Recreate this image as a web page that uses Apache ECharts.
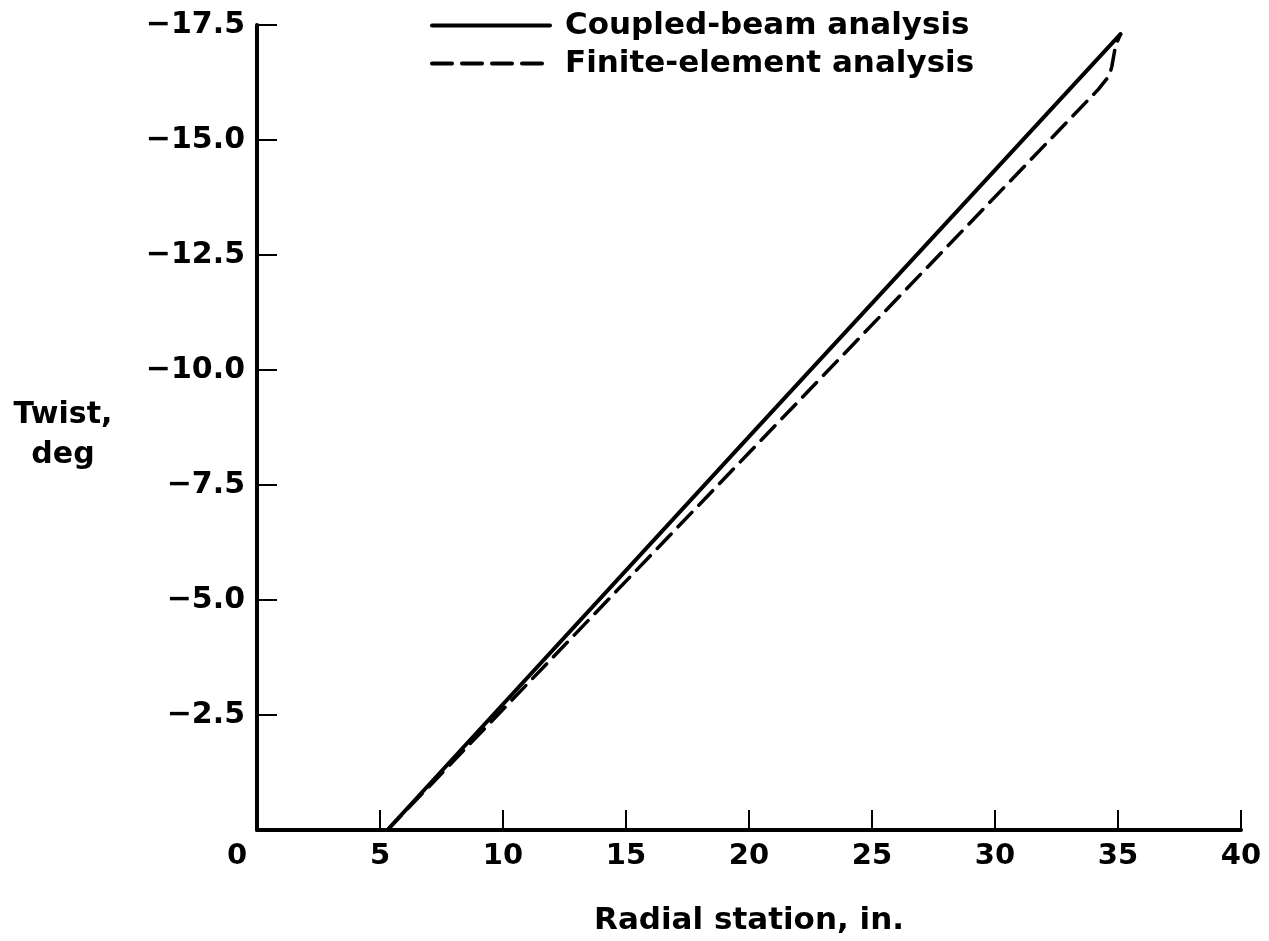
<!DOCTYPE html>
<html>
<head>
<meta charset="utf-8">
<script src="https://cdn.jsdelivr.net/npm/echarts@6/dist/echarts.min.js"></script>
<style>
  html, body { margin: 0; padding: 0; background: #fff; }
  #chart { width: 1269px; height: 941px; }
</style>
</head>
<body>
<div id="chart"></div>
<script>
// values (radial station in., twist deg)
var seriesNames = ['Coupled-beam analysis', 'Finite-element analysis']
var coupledBeam = [[5.3, 0], [20, -8.55], [35.1, -17.3]]
var finiteElement = [[5.3, 0], [20, -8.2], [34.2, -16.1], [34.65, -16.4], [34.75, -16.6], [34.9, -17.05], [35.1, -17.3]]
var xTicks = { min: 0, max: 40, step: 5 }
var yTicks = { min: -17.5, max: 0, step: 2.5 }

var FONT = 'DejaVu Sans'
var myChart = echarts.init(document.getElementById('chart'))

var option = {
  backgroundColor: '#fff',
  animation: false,
  textStyle: { fontFamily: FONT, color: '#000' },
  legend: {
    orient: 'vertical',
    left: 425,
    top: 5,
    itemWidth: 118,
    itemHeight: 30,
    itemGap: 7,
    itemStyle: { opacity: 0 },
    lineStyle: { width: 4 },
    textStyle: { fontFamily: FONT, fontSize: 31, fontWeight: 'bold', color: '#000', padding: [0, 0, 0, 10] },
    data: seriesNames
  },
  grid: {
    left: 257,
    right: 28,
    top: 25,
    bottom: 103,
    containLabel: false
  },
  graphic: [
    {
      type: 'text',
      x: 63,
      y: 435,
      style: {
        text: 'Twist,\ndeg',
        textAlign: 'center',
        textVerticalAlign: 'middle',
        fontFamily: FONT,
        fontSize: 30,
        fontWeight: 'bold',
        lineHeight: 40,
        fill: '#000'
      }
    }
  ],
  xAxis: {
    type: 'value',
    min: xTicks.min,
    max: xTicks.max,
    interval: xTicks.step,
    name: 'Radial station, in.',
    nameLocation: 'middle',
    nameGap: 75,
    nameTextStyle: { fontFamily: FONT, fontSize: 31, fontWeight: 'bold', color: '#000' },
    axisLine: { onZero: false, lineStyle: { color: '#000', width: 4 } },
    axisTick: { inside: true, length: 20, lineStyle: { color: '#000', width: 2 } },
    splitLine: { show: false },
    axisLabel: {
      margin: 12,
      fontFamily: FONT,
      fontSize: 29,
      fontWeight: 'bold',
      color: '#000',
      formatter: function (v) {
        return v === 0 ? '{z|0}' : String(v)
      },
      rich: {
        z: { fontFamily: FONT, fontSize: 29, fontWeight: 'bold', color: '#000', padding: [0, 40, 0, 0] }
      }
    }
  },
  yAxis: {
    type: 'value',
    inverse: true,
    min: yTicks.min,
    max: yTicks.max,
    interval: yTicks.step,
    axisLine: { onZero: false, lineStyle: { color: '#000', width: 4 } },
    axisTick: { inside: true, length: 20, lineStyle: { color: '#000', width: 2 } },
    splitLine: { show: false },
    axisLabel: {
      margin: 12,
      fontFamily: FONT,
      fontSize: 30,
      fontWeight: 'bold',
      color: '#000',
      formatter: function (v) {
        if (v === 0) return ''
        return '\u2212' + Math.abs(v).toFixed(1)
      }
    }
  },
  series: [
    {
      name: seriesNames[0],
      type: 'line',
      data: coupledBeam,
      symbol: 'none',
      lineStyle: { color: '#000', width: 4, cap: 'round' },
      itemStyle: { color: '#000' }
    },
    {
      name: seriesNames[1],
      type: 'line',
      data: finiteElement,
      symbol: 'none',
      lineStyle: { color: '#000', width: 3.5, type: [20, 10], cap: 'round' },
      itemStyle: { color: '#000' }
    }
  ]
}
myChart.clear()
myChart.setOption(option)
</script>
</body>
</html>
